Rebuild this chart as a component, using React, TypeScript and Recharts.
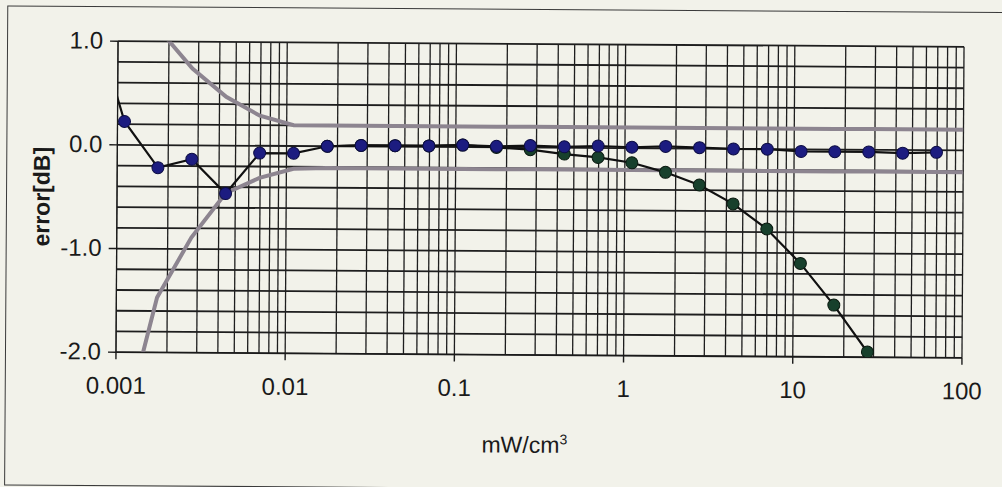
import { LineChart, Line, XAxis, YAxis, CartesianGrid } from "recharts"

// measurement points (mW/cm3), same grid for all series
const powerLevels = [
    0.000694, 0.0011, 0.00174, 0.00276, 0.00438, 0.00694, 0.011, 0.0174, 0.0276, 0.0438,
    0.0694, 0.11, 0.174, 0.276, 0.438, 0.694, 1.1, 1.74, 2.76, 4.38,
    6.94, 11, 17.4, 27.6, 43.8, 69.4, 100,
]

// error [dB]
const blueError = [
    1.3, 0.226, -0.217, -0.134, -0.463, -0.07, -0.07, 0.0, 0.01, 0.01,
    0.01, 0.02, 0.01, 0.02, 0.01, 0.02, 0.01, 0.02, 0.01, 0.0,
    0.0, -0.02, -0.02, -0.02, -0.03, -0.02, null,
]
const greenError = [
    null, null, null, null, null, null, null, 0.0, 0.01, 0.01,
    0.01, 0.02, 0.0, -0.02, -0.06, -0.09, -0.14, -0.23, -0.35, -0.53,
    -0.77, -1.1, -1.5, -1.95, -2.6, null, null,
]
const upperLimit = [
    null, null, 1.12, 0.74, 0.47, 0.29, 0.2, 0.2, 0.2, 0.2,
    0.2, 0.2, 0.2, 0.2, 0.2, 0.2, 0.2, 0.2, 0.2, 0.2,
    0.2, 0.2, 0.2, 0.2, 0.2, 0.2, 0.2,
]
const lowerLimit = [
    null, -2.78, -1.47, -0.89, -0.46, -0.31, -0.22, -0.21, -0.21, -0.21,
    -0.21, -0.21, -0.21, -0.21, -0.21, -0.21, -0.21, -0.21, -0.21, -0.21,
    -0.21, -0.21, -0.21, -0.21, -0.21, -0.21, -0.21,
]

const decades = [0.001, 0.01, 0.1, 1, 10, 100]
const decadeLabels = ["0.001", "0.01", "0.1", "1", "10", "100"]
const minorSteps = [1, 2, 3, 4, 5, 6, 7, 8, 9]

const yGridTicks = [-2, -1.8, -1.6, -1.4, -1.2, -1, -0.8, -0.6, -0.4, -0.2, 0, 0.2, 0.4, 0.6, 0.8, 1]
const yLabelValues = [1, 0, -1, -2]
const yLabels = ["1.0", "0.0", "-1.0", "-2.0"]

const xGridTicks = decades.slice(0, -1).flatMap(d => minorSteps.map(m => m * d)).concat([100])

const data = powerLevels.map((x, i) => ({
    x,
    blue: blueError[i],
    green: greenError[i],
    upper: upperLimit[i],
    lower: lowerLimit[i],
}))

const PLOT_LEFT = 117
const PLOT_BOTTOM = 355
const FONT = "'Liberation Sans', Arial, sans-serif"

function XTick(props: any) {
    const { x, payload } = props
    const idx = decades.findIndex(d => Math.abs(Math.log10(d) - Math.log10(payload.value)) < 1e-6)
    if (idx < 0) return <g />
    return (
        <g>
            <line x1={x} x2={x} y1={PLOT_BOTTOM} y2={PLOT_BOTTOM + 7} stroke="#1a1a1a" strokeWidth={1.4} />
            <text x={x} y={PLOT_BOTTOM + 33} textAnchor="middle" dominantBaseline="central"
                fontFamily={FONT} fontSize={24} fill="#1a1a1a">{decadeLabels[idx]}</text>
        </g>
    )
}

function YTick(props: any) {
    const { y, payload } = props
    const idx = yLabelValues.findIndex(v => Math.abs(v - payload.value) < 1e-6)
    if (idx < 0) return <g />
    return (
        <g>
            <line x1={PLOT_LEFT - 8} x2={PLOT_LEFT} y1={y} y2={y} stroke="#1a1a1a" strokeWidth={1.4} />
            <text x={PLOT_LEFT - 15} y={y - 1} textAnchor="end" dominantBaseline="central"
                fontFamily={FONT} fontSize={24} fill="#1a1a1a">{yLabels[idx]}</text>
        </g>
    )
}

export default function App() {
    return (
        <div style={{ position: "fixed", left: 0, top: 0, width: 1002, height: 487, overflow: "hidden", background: "#f2f2ea" }}>
            <div style={{ position: "absolute", left: 0, top: 0, width: 1002, height: 487, transform: "rotate(0.38deg)", transformOrigin: "540px 200px" }}>
                <div style={{ position: "absolute", left: 6, top: 9, width: 1100, height: 478, border: "1.5px solid #3a3a3a" }} />
                <LineChart width={1002} height={487} data={data}
                    margin={{ top: 44, right: 39, bottom: 131, left: PLOT_LEFT - 1 }}
                    style={{ position: "absolute", left: 0, top: 0 }}>
                    <CartesianGrid horizontal={false} stroke="#1e1e1e" strokeWidth={1.3} />
                    <CartesianGrid vertical={false} stroke="#1e1e1e" strokeWidth={1.8} />
                    <XAxis dataKey="x" type="number" scale="log" domain={[0.001, 100]} ticks={xGridTicks}
                        interval={0} allowDataOverflow height={1} tickLine={false} axisLine={{ stroke: "#1a1a1a" }}
                        tick={<XTick />} />
                    <YAxis type="number" domain={[-2, 1]} ticks={yGridTicks} interval={0} allowDataOverflow
                        width={1} tickLine={false} axisLine={{ stroke: "#1a1a1a" }} tick={<YTick />} />
                    <Line dataKey="upper" type="linear" stroke="#8d8590" strokeWidth={4} dot={false} isAnimationActive={false} />
                    <Line dataKey="lower" type="linear" stroke="#8d8590" strokeWidth={4} dot={false} isAnimationActive={false} />
                    <Line dataKey="green" type="linear" stroke="#111" strokeWidth={2.2}
                        dot={{ r: 6, fill: "#17402c", stroke: "#0a1a10", strokeWidth: 1 }} isAnimationActive={false} />
                    <Line dataKey="blue" type="linear" stroke="#111" strokeWidth={2.2}
                        dot={{ r: 6, fill: "#1c1c80", stroke: "#0d0d45", strokeWidth: 1 }} isAnimationActive={false} />
                </LineChart>
                <div style={{ position: "absolute", left: 42, top: 200, transform: "translate(-50%, -50%) rotate(-90deg)",
                    fontFamily: FONT, fontSize: 23, fontWeight: "bold", color: "#1a1a1a", whiteSpace: "nowrap" }}>
                    error[dB]
                </div>
                <div style={{ position: "absolute", left: 526, top: 445, transform: "translate(-50%, -50%)",
                    fontFamily: FONT, fontSize: 23, color: "#1a1a1a", whiteSpace: "nowrap" }}>
                    mW/cm<sup style={{ fontSize: 14 }}>3</sup>
                </div>
            </div>
        </div>
    )
}
